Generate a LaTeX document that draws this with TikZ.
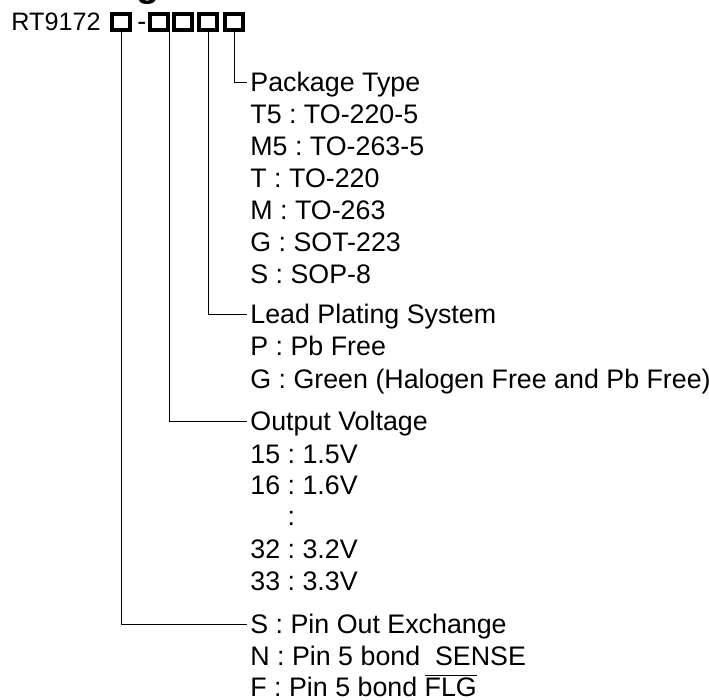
\documentclass[tikz,border=0pt]{standalone}
\usepackage{fontspec}
\setmainfont{Liberation Sans}
\usepackage{tikz}
\frenchspacing
\tikzstyle{box}=[rectangle, draw, line width=1.8pt, minimum width=9pt, minimum height=8pt, inner sep=0pt]
\tikzstyle{entry}=[anchor=base west, inner sep=0pt, font=\fontsize{13.4}{16}\selectfont]
\tikzstyle{head}=[anchor=base west, inner sep=0pt, font=\fontsize{19}{22}\selectfont\bfseries]
\tikzstyle{wire}=[line width=0.5pt]
\begin{document}
\begin{tikzpicture}[x=0.5pt,y=-0.5pt]
\useasboundingbox (0,0) rectangle (709,700);
%Heading, cut by the page edge
\node[head] (hd) at (-1,-3){Ordering Information};
%Part number
\node[entry, font=\fontsize{12.6}{16}\selectfont] (pn) at (11,31){RT9172};
\node[box] (b1) at (121,22){};
\node[entry] (dash) at (137,31){-};
\node[box] (b2) at (159,22){};
\node[box] (b3) at (183,22){};
\node[box] (b4) at (208,22){};
\node[box] (b5) at (234,22){};
%Package type
\node[entry] (pkg) at (250,92){Package Type};
\node[entry] (pk1) at (250,124){T5 : TO-220-5};
\node[entry] (pk2) at (250,156){M5 : TO-263-5};
\node[entry] (pk3) at (250,188){T : TO-220};
\node[entry] (pk4) at (250,220){M : TO-263};
\node[entry] (pk5) at (250,252){G : SOT-223};
\node[entry] (pk6) at (250,284){S : SOP-8};
%Lead plating
\node[entry] (lead) at (250,324){Lead Plating System};
\node[entry] (ld1) at (250,356){P : Pb Free};
\node[entry] (ld2) at (250,389){G : Green (Halogen Free and Pb Free)};
%Output voltage
\node[entry] (vout) at (250,431){Output Voltage};
\node[entry] (vo1) at (250,464){15 : 1.5V};
\node[entry] (vo2) at (250,495){16 : 1.6V};
\node[entry] (vo3) at (250,526){\phantom{16 }:};
\node[entry] (vo4) at (250,559){32 : 3.2V};
\node[entry] (vo5) at (250,591){33 : 3.3V};
%Pin out
\node[entry] (pin) at (250,634){S : Pin Out Exchange};
\node[entry] (pn1) at (250,666){N : Pin 5 bond\ \ SENSE};
\node[entry] (pn2) at (250,697){F : Pin 5 bond $\overline{\mbox{FLG}}$};
%Connectors
\draw[wire] (b5.south) |- ([shift={(-1.5pt,4.7pt)}]pkg.base west);
\draw[wire] (b4.south) |- ([shift={(-1.5pt,4.7pt)}]lead.base west);
\draw[wire] (b2.south east) |- ([shift={(-1.5pt,4.7pt)}]vout.base west);
\draw[wire] (b1.south) |- ([shift={(-1.5pt,4.7pt)}]pin.base west);
\end{tikzpicture}
\end{document}
